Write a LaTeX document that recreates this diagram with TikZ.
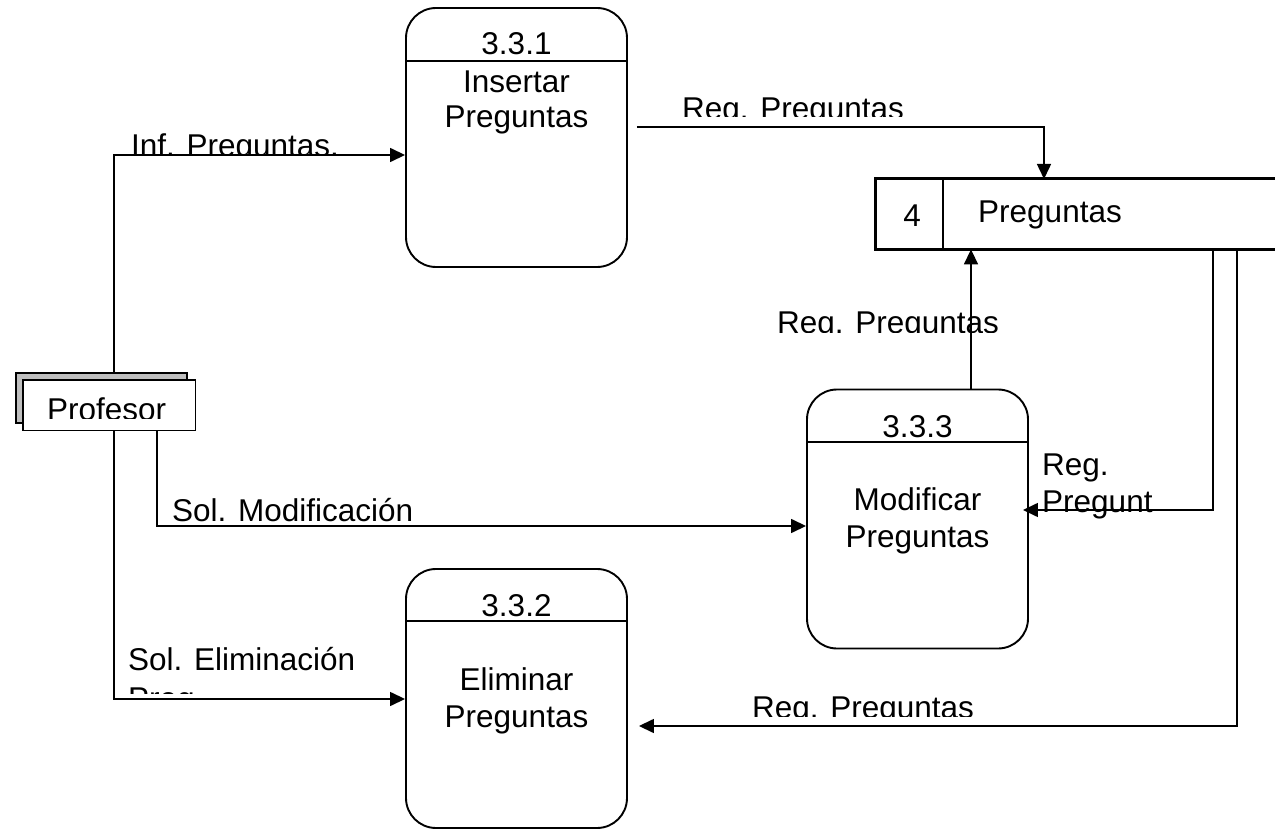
\documentclass[tikz,border=0pt]{standalone}
\usepackage{fontspec}
\newfontfamily\labfont{Liberation Sans}
\usetikzlibrary{arrows.meta}
\begin{document}
\begin{tikzpicture}[x=1pt,y=-1pt,
  txt/.style={font=\labfont\fontsize{31.5}{36}\selectfont, inner sep=0pt, anchor=base},
  ltxt/.style={txt, anchor=base west},
  proc/.style={draw, line width=1.9pt, rounded corners=30pt, minimum width=221pt, minimum height=259pt, inner sep=0pt},
  flow/.style={line width=1.5pt, -{Triangle[length=15pt,width=14pt]}},
  divider/.style={line width=1.5pt}]
\useasboundingbox (0,0) rectangle (1275,829);

% processes
\node[proc] (p1) at (516.5,137.5) {};
\node[proc] (p3) at (917.5,519) {};
\node[proc] (p2) at (516.5,698.5) {};
\draw[divider] (406,61) -- (627,61);
\draw[divider] (807,442) -- (1028,442);
\draw[divider] (406,621) -- (627,621);
\node[txt] (p1id) at (516.5,55) {3.3.1};
\node[txt] (p1a) at (516.5,93) {Insertar};
\node[txt] (p1b) at (516.5,128) {Preguntas};
\node[txt] (p3id) at (917.5,437) {3.3.3};
\node[txt] (p3a) at (917.5,510) {Modificar};
\node[txt] (p3b) at (917.5,547) {Preguntas};
\node[txt] (p2id) at (516.5,616) {3.3.2};
\node[txt] (p2a) at (516.5,690) {Eliminar};
\node[txt] (p2b) at (516.5,727) {Preguntas};

% data store
\node[minimum width=400pt, minimum height=70pt, inner sep=0pt, anchor=north west] (st) at (875,179) {};
\draw[line width=3pt] (st.north east) -- (st.north west) -- (st.south west) -- (st.south east);
\draw[line width=1.2pt] (943,179) -- (943,249);
\node[txt] (stid) at (912,227) {4};
\node[ltxt] (stname) at (978,223) {Preguntas};

% external entity (drawn later, on top of its connectors)
\node[minimum width=172pt, minimum height=50pt, inner sep=0pt, anchor=north west] (prof) at (23,380) {};

% flows
\draw[flow] ([xshift=5pt]prof.center) |- (p1.west |- 0,155);
\draw[flow] ([xshift=5pt]prof.center) |- (p2.west |- 0,699);
\draw[flow] ([xshift=48pt]prof.center) |- (p3.west |- 0,526);
\draw[flow] (p1.east |- 0,127) ++(9,0) -| (st.north west -| 1044,0);
\draw[flow] (p3.north -| 971,0) -- (st.south -| 971,0);
\draw[flow, shorten >=-6pt] (st.south -| 1213,0) |- (p3.east |- 0,510);
\draw[flow, shorten >=11pt] (st.south -| 1237,0) |- (p2.east |- 0,726);

% entity boxes
\draw[line width=1.5pt, fill=black!25] (16,373) rectangle (187,423);
\draw[line width=1.5pt, fill=white] (prof.north west) rectangle (prof.south east);
\begin{scope}
  \clip (30,385) rectangle (190,418);
  \node[ltxt] (profname) at (47,420) {Profesor};
\end{scope}

% flow labels
\begin{scope}
  \clip (120,120) rectangle (400,156);
  \node[ltxt] (l1) at (131,157) {Inf. Preguntas.};
\end{scope}
\begin{scope}
  \clip (670,85) rectangle (950,117);
  \node[ltxt] (l2) at (682,120) {Reg. Preguntas};
\end{scope}
\begin{scope}
  \clip (765,295) rectangle (1040,332);
  \node[ltxt] (l3) at (777,333) {Reg. Preguntas};
\end{scope}
\begin{scope}
  \clip (740,680) rectangle (1020,716);
  \node[ltxt] (l4) at (752,718) {Reg. Preguntas};
\end{scope}
\node[ltxt] (l5) at (172,521) {Sol. Modificación};
\node[ltxt] (l6a) at (128,670) {Sol. Eliminación};
\begin{scope}
  \clip (120,680) rectangle (400,693);
  \node[ltxt] (l6b) at (128,709) {Preg};
\end{scope}
\node[ltxt] (l7a) at (1042,475) {Reg.};
\node[ltxt] (l7b) at (1042,512) {Pregunt};
\end{tikzpicture}
\end{document}
